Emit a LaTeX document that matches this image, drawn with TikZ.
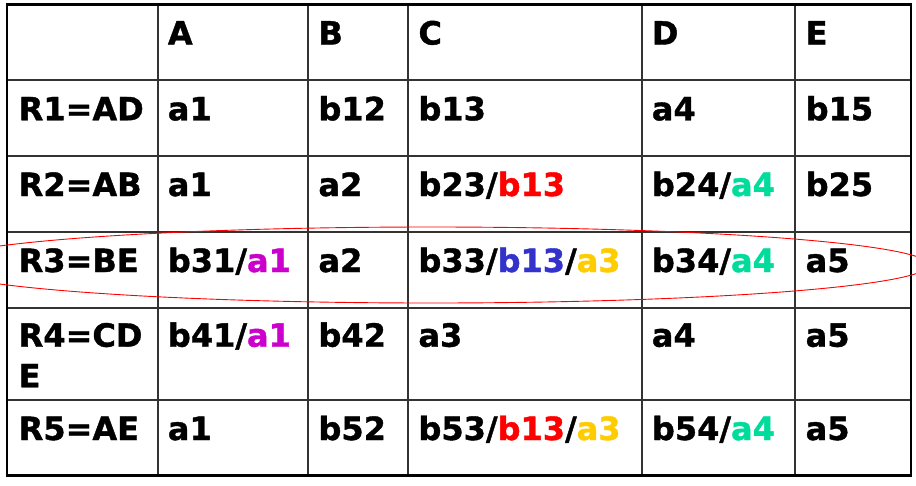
\documentclass[tikz,border=0pt]{standalone}
\usepackage{fontspec}
\setmainfont{DejaVu Sans}
\newfontfamily\cellfont[FakeBold=1.2]{DejaVu Sans Bold}
\definecolor{cmag}{HTML}{CC00CC}
\definecolor{cred}{HTML}{FF0000}
\definecolor{cblue}{HTML}{3333CC}
\definecolor{cyel}{HTML}{FFCC00}
\definecolor{cteal}{HTML}{00DC9C}
\definecolor{gridc}{HTML}{333333}
\tikzset{
  cell/.style={anchor=base west, inner sep=0pt, font=\fontsize{32}{38}\cellfont},
  inner/.style={draw=gridc, line width=1.8pt},
  outer/.style={draw=black, line width=2.6pt},
  ring/.style={draw=red, line width=0.9pt}
}
\begin{document}
\begin{tikzpicture}[x=1pt,y=-1pt]
\useasboundingbox (0,0) rectangle (916,485);
\clip (0,0) rectangle (916,485);
\fill[white] (0,0) rectangle (916,485);
% grid
\foreach \xx in {157.7,308.3,408.3,641.7,795}
  \draw[inner] (\xx,4.5) -- (\xx,475.7);
\foreach \yy in {80.3,156,232,307.7,400}
  \draw[inner] (6.8,\yy) -- (911,\yy);
\draw[outer] (6.8,4.5) rectangle (911,475.7);
% header
\node[cell] (hA) at (167.7,44.5) {A};
\node[cell] (hB) at (318.3,44.5) {B};
\node[cell] (hC) at (418.3,44.5) {C};
\node[cell] (hD) at (651.7,44.5) {D};
\node[cell] (hE) at (805.5,44.5) {E};
% row 1
\node[cell] (r1) at (18.5,120.3) {R1=AD};
\node[cell] (r1a) at (167.7,120.3) {a1};
\node[cell] (r1b) at (318.3,120.3) {b12};
\node[cell] (r1c) at (418.3,120.3) {b13};
\node[cell] (r1d) at (651.7,120.3) {a4};
\node[cell] (r1e) at (805.5,120.3) {b15};
% row 2
\node[cell] (r2) at (18.5,196) {R2=AB};
\node[cell] (r2a) at (167.7,196) {a1};
\node[cell] (r2b) at (318.3,196) {a2};
\node[cell] (r2c) at (418.3,196) {b23/\textcolor{cred}{b13}};
\node[cell] (r2d) at (651.7,196) {b24/\textcolor{cteal}{a4}};
\node[cell] (r2e) at (805.5,196) {b25};
% row 3
\node[cell] (r3) at (18.5,272) {R3=BE};
\node[cell] (r3a) at (167.7,272) {b31/\textcolor{cmag}{a1}};
\node[cell] (r3b) at (318.3,272) {a2};
\node[cell] (r3c) at (418.3,272) {b33/\textcolor{cblue}{b13}/\textcolor{cyel}{a3}};
\node[cell] (r3d) at (651.7,272) {b34/\textcolor{cteal}{a4}};
\node[cell] (r3e) at (805.5,272) {a5};
% row 4
\node[cell] (r4) at (18.5,346.7) {R4=CD};
\node[cell] (r4x) at (18.5,387.3) {E};
\node[cell] (r4a) at (167.7,346.7) {b41/\textcolor{cmag}{a1}};
\node[cell] (r4b) at (318.3,346.7) {b42};
\node[cell] (r4c) at (418.3,346.7) {a3};
\node[cell] (r4d) at (651.7,346.7) {a4};
\node[cell] (r4e) at (805.5,346.7) {a5};
% row 5
\node[cell] (r5) at (18.5,440) {R5=AE};
\node[cell] (r5a) at (167.7,440) {a1};
\node[cell] (r5b) at (318.3,440) {b52};
\node[cell] (r5c) at (418.3,440) {b53/\textcolor{cred}{b13}/\textcolor{cyel}{a3}};
\node[cell] (r5d) at (651.7,440) {b54/\textcolor{cteal}{a4}};
\node[cell] (r5e) at (805.5,440) {a5};
% highlight ellipse
\draw[ring] (431,265) ellipse [x radius=498, y radius=38];
\end{tikzpicture}
\end{document}
